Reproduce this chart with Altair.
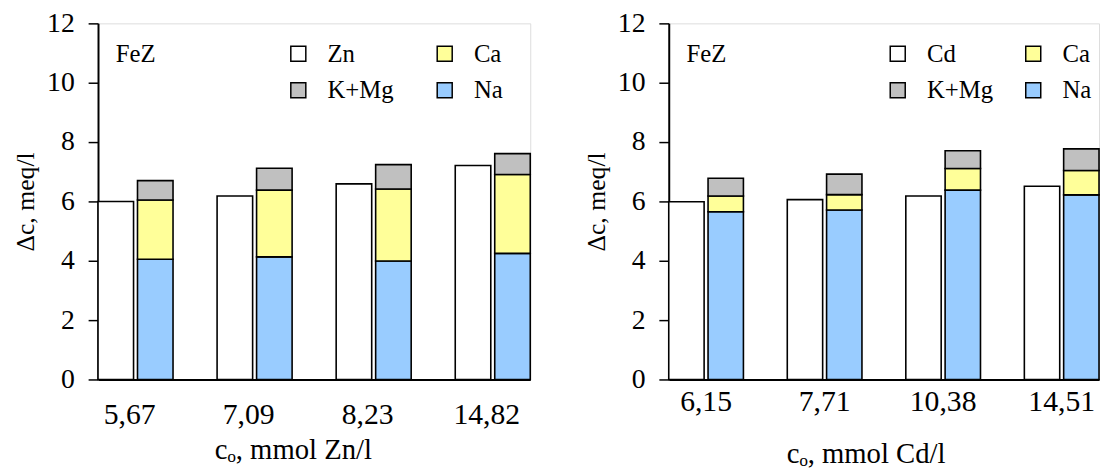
import altair as alt
import pandas as pd

# ---- data ----
zn_conc = ["5,67", "7,09", "8,23", "14,82"]
zn_metal = [6.00, 6.18, 6.59, 7.21]
zn_na = [4.05, 4.13, 3.99, 4.25]
zn_ca = [2.00, 2.25, 2.43, 2.66]
zn_kmg = [0.65, 0.74, 0.82, 0.70]

cd_conc = ["6,15", "7,71", "10,38", "14,51"]
cd_metal = [5.99, 6.06, 6.18, 6.51]
cd_na = [5.65, 5.71, 6.38, 6.22]
cd_ca = [0.53, 0.52, 0.73, 0.82]
cd_kmg = [0.60, 0.69, 0.60, 0.73]

FONT = "Times New Roman, Liberation Serif, serif"
COLORS = {"metal": "#FFFFFF", "Ca": "#FFFF99", "K+Mg": "#C0C0C0", "Na": "#99CCFF"}


def build_df(cats, metal_name, metal, na, ca, kmg):
    rows = []
    for i, c in enumerate(cats):
        rows.append(dict(cat=c, grp="a", series=metal_name, val=metal[i], ordr=0))
        rows.append(dict(cat=c, grp="b", series="Na", val=na[i], ordr=1))
        rows.append(dict(cat=c, grp="b", series="Ca", val=ca[i], ordr=2))
        rows.append(dict(cat=c, grp="b", series="K+Mg", val=kmg[i], ordr=3))
    return pd.DataFrame(rows)


def panel(cats, metal_name, metal, na, ca, kmg, xtitle, width, label_pad,
          title_pad, label_off, title_x, legend_x, col_pad):
    df = build_df(cats, metal_name, metal, na, ca, kmg)
    domain = [metal_name, "K+Mg", "Ca", "Na"]
    rng = [COLORS["metal"], COLORS["K+Mg"], COLORS["Ca"], COLORS["Na"]]
    bars = alt.Chart(df).mark_bar(stroke="black", strokeWidth=1.6).encode(
        x=alt.X("cat:N", sort=cats, title=xtitle,
                scale=alt.Scale(paddingInner=0.37, paddingOuter=0),
                axis=alt.Axis(labelAngle=0, ticks=False, labelFontSize=30,
                              labelPadding=label_pad, labelOffset=label_off,
                              titleFontSize=29, titlePadding=title_pad,
                              titleX=title_x,
                              titleFontWeight="normal", domainWidth=2,
                              domainColor="black", labelColor="black",
                              titleColor="black", labelFont=FONT, titleFont=FONT)),
        xOffset=alt.XOffset("grp:N", sort=["a", "b"],
                            scale=alt.Scale(paddingInner=0.1, paddingOuter=0)),
        y=alt.Y("val:Q", stack="zero", title="Δc, meq/l",
                scale=alt.Scale(domain=[0, 12], nice=False),
                axis=alt.Axis(values=[0, 2, 4, 6, 8, 10, 12], grid=False,
                              tickSize=10, tickWidth=1.5, tickColor="black",
                              labelFontSize=28, labelPadding=14,
                              titleFontSize=26, titlePadding=8,
                              titleFontWeight="normal", domainWidth=2,
                              domainColor="black", labelColor="black",
                              titleColor="black", labelFont=FONT, titleFont=FONT)),
        order=alt.Order("ordr:Q"),
        color=alt.Color("series:N", scale=alt.Scale(domain=domain, range=rng),
                        legend=alt.Legend(orient="none", legendX=legend_x, legendY=18,
                                          columns=2, title=None, symbolType="square",
                                          symbolSize=230, symbolStrokeColor="black",
                                          symbolStrokeWidth=1.5, labelFontSize=25,
                                          labelFont=FONT, labelColor="black",
                                          labelOffset=17, columnPadding=col_pad,
                                          rowPadding=11, labelLimit=200)),
    )
    fez = alt.Chart(pd.DataFrame({"t": ["FeZ"]})).mark_text(
        align="left", baseline="middle", font=FONT, fontSize=25, color="black"
    ).encode(x=alt.value(18), y=alt.value(31), text="t:N")
    return alt.layer(bars, fez).properties(width=width, height=360)


left = panel(zn_conc, "Zn", zn_metal, zn_na, zn_ca, zn_kmg, "cₒ, mmol Zn/l",
             437, 21, 6, -6, 197, 190, 39)
right = panel(cd_conc, "Cd", cd_metal, cd_na, cd_ca, cd_kmg, "cₒ, mmol Cd/l",
              435, 7, 24, 0, 199, 219, 28)

chart = alt.hconcat(left, right, spacing=51).resolve_scale(
    color="independent", xOffset="independent"
).resolve_legend(color="independent").properties(
    padding={"left": 4, "top": -2, "right": 0, "bottom": 0}
).configure_view(
    stroke="black", strokeWidth=2
).configure(font=FONT)

chart.save("out.html", embed_options={"renderer": "svg", "actions": False})
